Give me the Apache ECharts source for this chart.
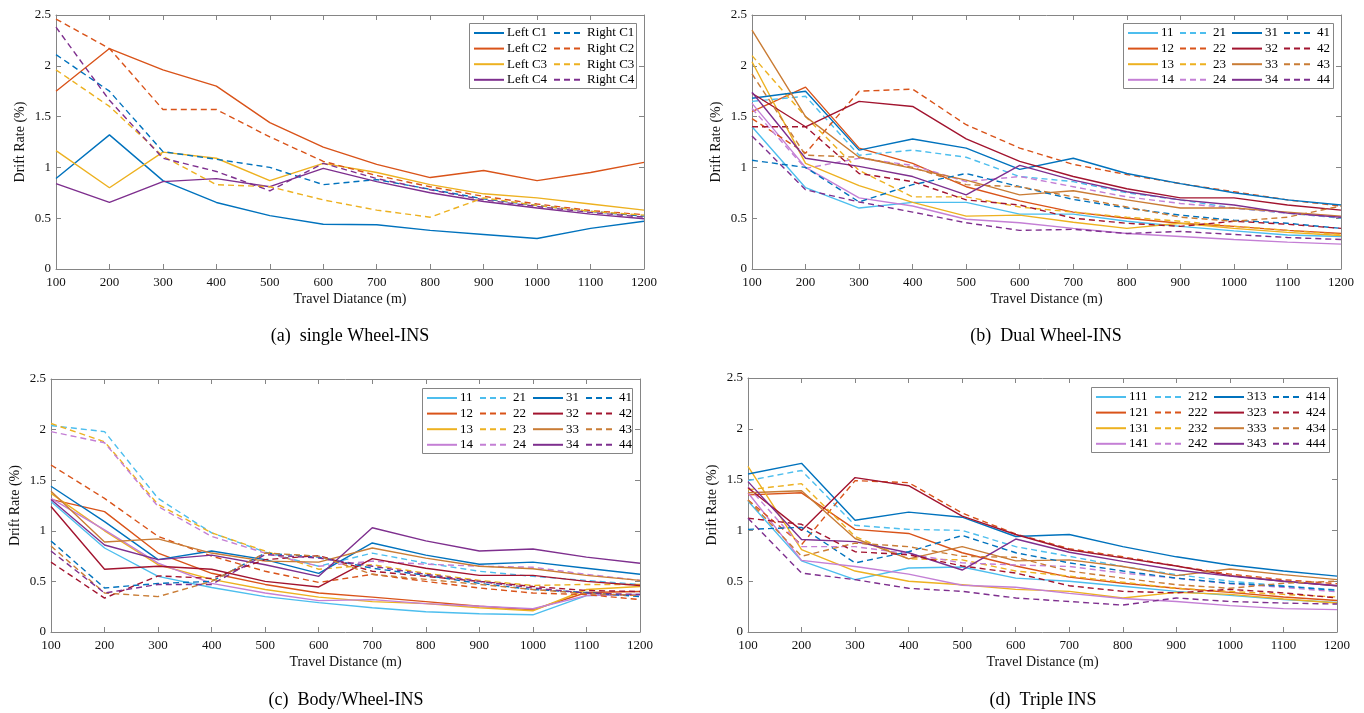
<!DOCTYPE html>
<html><head><meta charset="utf-8">
<script src="https://cdn.jsdelivr.net/npm/echarts@6/dist/echarts.min.js"></script>
<style>html,body{margin:0;padding:0;background:#fff}#c{width:1364px;height:713px}</style>
</head><body><div id="c"></div><script>
// ---------- data ----------
const xs = [100,200,300,400,500,600,700,800,900,1000,1100,1200];
const yTicks = [0,0.5,1,1.5,2,2.5];

// (a) single Wheel-INS
const aL1 = [0.89,1.32,0.87,0.655,0.525,0.44,0.435,0.38,0.34,0.30,0.40,0.47];
const aL2 = [1.75,2.17,1.96,1.80,1.44,1.20,1.03,0.90,0.97,0.87,0.95,1.05];
const aL3 = [1.165,0.80,1.15,1.09,0.87,1.04,0.95,0.83,0.74,0.70,0.64,0.58];
const aL4 = [0.84,0.655,0.86,0.89,0.81,0.99,0.86,0.75,0.665,0.60,0.54,0.495];
const aR1 = [2.11,1.75,1.155,1.08,1.0,0.83,0.88,0.785,0.69,0.625,0.567,0.52];
const aR2 = [2.46,2.17,1.57,1.57,1.30,1.06,0.92,0.81,0.715,0.64,0.575,0.535];
const aR3 = [1.96,1.60,1.11,0.83,0.81,0.68,0.58,0.51,0.70,0.625,0.567,0.53];
const aR4 = [2.38,1.66,1.09,0.96,0.77,1.04,0.89,0.78,0.68,0.615,0.557,0.51];

// (b) Dual Wheel-INS
const b11 = [1.40,0.80,0.60,0.656,0.656,0.54,0.54,0.47,0.42,0.375,0.335,0.32];
const b12 = [1.55,1.79,1.19,1.04,0.81,0.67,0.56,0.50,0.45,0.42,0.38,0.35];
const b13 = [2.04,1.04,0.82,0.656,0.52,0.53,0.46,0.40,0.45,0.40,0.36,0.33];
const b14 = [1.63,1.00,0.70,0.62,0.49,0.455,0.40,0.35,0.32,0.29,0.265,0.245];
const b21 = [1.65,1.70,1.12,1.17,1.10,0.91,0.86,0.75,0.68,0.60,0.55,0.50];
const b22 = [1.48,1.14,1.75,1.77,1.42,1.19,1.03,0.93,0.84,0.76,0.68,0.62];
const b23 = [2.10,1.50,0.97,0.71,0.71,0.61,0.56,0.51,0.47,0.42,0.38,0.34];
const b24 = [1.58,0.99,1.09,1.02,0.86,0.91,0.81,0.71,0.645,0.60,0.55,0.51];
const b31 = [1.68,1.75,1.17,1.28,1.19,0.98,1.09,0.94,0.84,0.75,0.68,0.63];
const b32 = [1.73,1.40,1.65,1.60,1.28,1.06,0.91,0.79,0.70,0.70,0.63,0.58];
const b33 = [2.35,1.50,1.10,0.99,0.875,0.73,0.77,0.68,0.60,0.60,0.56,0.52];
const b34 = [1.74,1.09,1.01,0.91,0.73,1.02,0.875,0.76,0.68,0.63,0.55,0.51];
const b41 = [1.07,1.00,0.66,0.83,0.94,0.81,0.685,0.60,0.53,0.48,0.45,0.40];
const b42 = [1.40,1.40,0.94,0.86,0.68,0.63,0.50,0.45,0.42,0.47,0.44,0.40];
const b43 = [1.92,1.12,1.10,1.00,0.83,0.81,0.71,0.61,0.51,0.47,0.51,0.62];
const b44 = [1.31,0.78,0.66,0.56,0.455,0.38,0.39,0.35,0.37,0.34,0.31,0.29];

// (c) Body/Wheel-INS
const c11 = [1.29,0.83,0.55,0.44,0.35,0.29,0.24,0.20,0.18,0.17,0.36,0.37];
const c12 = [1.31,1.19,0.78,0.58,0.47,0.385,0.345,0.30,0.255,0.22,0.39,0.40];
const c13 = [1.37,1.00,0.665,0.52,0.42,0.345,0.30,0.28,0.24,0.21,0.42,0.45];
const c14 = [1.32,1.01,0.68,0.48,0.385,0.31,0.32,0.28,0.255,0.23,0.36,0.37];
const c21 = [2.04,1.98,1.32,0.98,0.79,0.65,0.78,0.68,0.60,0.55,0.51,0.47];
const c22 = [1.65,1.32,0.945,0.75,0.60,0.49,0.57,0.50,0.435,0.385,0.37,0.32];
const c23 = [2.06,1.88,1.26,0.98,0.80,0.62,0.665,0.58,0.51,0.46,0.47,0.47];
const c24 = [1.98,1.87,1.24,0.945,0.78,0.65,0.70,0.67,0.65,0.64,0.57,0.51];
const c31 = [1.44,1.09,0.715,0.80,0.715,0.58,0.88,0.76,0.67,0.69,0.63,0.57];
const c32 = [1.24,0.62,0.65,0.62,0.50,0.445,0.725,0.63,0.56,0.56,0.50,0.46];
const c33 = [1.39,0.89,0.92,0.78,0.70,0.69,0.83,0.73,0.65,0.625,0.56,0.51];
const c34 = [1.31,0.86,0.715,0.76,0.665,0.55,1.03,0.90,0.80,0.82,0.74,0.68];
const c41 = [0.90,0.435,0.48,0.50,0.78,0.74,0.63,0.56,0.48,0.42,0.39,0.35];
const c42 = [0.69,0.335,0.555,0.53,0.715,0.755,0.60,0.55,0.50,0.45,0.41,0.40];
const c43 = [0.85,0.385,0.35,0.50,0.78,0.75,0.57,0.52,0.47,0.42,0.38,0.36];
const c44 = [0.80,0.385,0.47,0.47,0.765,0.73,0.65,0.57,0.50,0.435,0.385,0.37];

// (d) Triple INS
const d111 = [1.29,0.70,0.515,0.63,0.64,0.53,0.50,0.45,0.40,0.36,0.32,0.29];
const d121 = [1.35,1.37,1.01,0.97,0.78,0.65,0.54,0.48,0.43,0.39,0.345,0.31];
const d131 = [1.63,0.81,0.60,0.50,0.465,0.42,0.40,0.335,0.39,0.37,0.325,0.285];
const d141 = [1.37,0.705,0.645,0.57,0.46,0.44,0.38,0.33,0.30,0.26,0.23,0.22];
const d212 = [1.49,1.59,1.05,1.01,1.00,0.84,0.745,0.645,0.565,0.50,0.455,0.415];
const d222 = [1.30,0.86,1.49,1.47,1.17,0.965,0.82,0.74,0.65,0.57,0.515,0.475];
const d232 = [1.40,1.46,0.94,0.72,0.71,0.60,0.55,0.49,0.43,0.40,0.37,0.345];
const d242 = [1.43,0.84,0.84,0.77,0.68,0.66,0.645,0.58,0.53,0.475,0.44,0.395];
const d313 = [1.555,1.66,1.10,1.18,1.13,0.94,0.96,0.84,0.74,0.66,0.60,0.55];
const d323 = [1.42,1.00,1.52,1.44,1.14,0.96,0.81,0.73,0.65,0.555,0.50,0.455];
const d333 = [1.37,1.39,0.92,0.72,0.84,0.70,0.71,0.645,0.555,0.62,0.565,0.515];
const d343 = [1.48,0.91,0.89,0.78,0.61,0.915,0.785,0.695,0.61,0.55,0.50,0.455];
const d414 = [1.01,1.03,0.68,0.79,0.95,0.78,0.68,0.60,0.53,0.48,0.45,0.41];
const d424 = [1.12,1.06,0.79,0.76,0.65,0.58,0.455,0.40,0.385,0.42,0.385,0.335];
const d434 = [1.30,0.745,0.875,0.84,0.745,0.735,0.60,0.53,0.465,0.43,0.48,0.50];
const d444 = [1.12,0.58,0.515,0.43,0.40,0.335,0.30,0.265,0.335,0.30,0.285,0.275];

// ---------- styling ----------
const FONT = 'Liberation Serif';
const C = {blue:'#0072BD', orange:'#D95319', yellow:'#EDB120', purple:'#7E2F8E',
  lblue:'#4DBEEE', dred:'#A2142F', lpurple:'#C47FD5', bronze:'#C97C35'};
const AX = '#858585';

const grids = [
  {left:56, top:15, width:588, height:254},
  {left:752, top:15, width:589, height:254},
  {left:51, top:379, width:589, height:253},
  {left:748, top:378, width:589, height:254}
];
const xNames = ['Travel Diatance (m)','Travel Distance (m)','Travel Distance (m)','Travel Distance (m)'];

const xAxes = [], yAxes = [];
grids.forEach((g,i)=>{
  const common = {gridIndex:i, type:'value', splitLine:{show:false},
    axisLine:{show:true, onZero:false, lineStyle:{color:AX, width:1}},
    axisTick:{show:true, inside:true, length:5, lineStyle:{color:AX}}};
  xAxes.push(Object.assign({}, common, {position:'bottom', min:100, max:1200, interval:100,
    axisLabel:{color:'#111', fontFamily:FONT, fontSize:13, margin:7, formatter:v=>String(v)},
    name:xNames[i], nameLocation:'middle', nameGap:23,
    nameTextStyle:{color:'#111', fontFamily:FONT, fontSize:14}}));
  xAxes.push(Object.assign({}, common, {position:'top', min:100, max:1200, interval:100,
    axisLabel:{show:false}}));
  yAxes.push(Object.assign({}, common, {position:'left', min:yTicks[0], max:yTicks[yTicks.length-1], interval:0.5,
    axisLabel:{color:'#111', fontFamily:FONT, fontSize:13, margin:5, formatter:v=>String(v)},
    name:'Drift Rate (%)', nameLocation:'middle', nameGap:29,
    nameTextStyle:{color:'#111', fontFamily:FONT, fontSize:14}}));
  yAxes.push(Object.assign({}, common, {position:'right', min:yTicks[0], max:yTicks[yTicks.length-1], interval:0.5,
    axisLabel:{show:false}}));
});

function line(name, arr, color, dashed, g){
  return {name, type:'line', xAxisIndex:2*g, yAxisIndex:2*g,
    data: xs.map((x,i)=>[x, arr[i]]), symbol:'none', showSymbol:false,
    animation:false, emphasis:{disabled:true}, z:2,
    lineStyle:{color, width:1.4, type: dashed ? [6,4] : 'solid'}, itemStyle:{color}};
}

const series = [
  line('Left C1', aL1, C.blue, false, 0), line('Left C2', aL2, C.orange, false, 0),
  line('Left C3', aL3, C.yellow, false, 0), line('Left C4', aL4, C.purple, false, 0),
  line('Right C1', aR1, C.blue, true, 0), line('Right C2', aR2, C.orange, true, 0),
  line('Right C3', aR3, C.yellow, true, 0), line('Right C4', aR4, C.purple, true, 0)
];
const colMap = [C.lblue, C.orange, C.yellow, C.lpurple, C.lblue, C.orange, C.yellow, C.lpurple,
                C.blue, C.dred, C.bronze, C.purple, C.blue, C.dred, C.bronze, C.purple];
const dashMap = [false,false,false,false,true,true,true,true,false,false,false,false,true,true,true,true];
const bNames = ['11','12','13','14','21','22','23','24','31','32','33','34','41','42','43','44'];
const dNames = ['111','121','131','141','212','222','232','242','313','323','333','343','414','424','434','444'];
const bArr = [b11,b12,b13,b14,b21,b22,b23,b24,b31,b32,b33,b34,b41,b42,b43,b44];
const cArr = [c11,c12,c13,c14,c21,c22,c23,c24,c31,c32,c33,c34,c41,c42,c43,c44];
const dArr = [d111,d121,d131,d141,d212,d222,d232,d242,d313,d323,d333,d343,d414,d424,d434,d444];
bNames.forEach((n,i)=>series.push(line(n, bArr[i], colMap[i], dashMap[i], 1)));
bNames.forEach((n,i)=>series.push(line(n, cArr[i], colMap[i], dashMap[i], 2)));
dNames.forEach((n,i)=>series.push(line(n, dArr[i], colMap[i], dashMap[i], 3)));

function leg(names, left, top){
  return {orient:'vertical', left, top, padding:0, itemWidth:30, itemHeight:14, itemGap:1.6,
    selectedMode:false, z:10, itemStyle:{opacity:0, borderWidth:0},
    textStyle:{fontFamily:FONT, fontSize:13, color:'#000', lineHeight:14, padding:[0,0,0,-2]},
    data:names};
}
const legends = [
  leg(['Left C1','Left C2','Left C3','Left C4'], 473, 26),
  leg(['Right C1','Right C2','Right C3','Right C4'], 553, 26),
];
[[1127,26],[426,391],[1095,390]].forEach((p,k)=>{
  const names = k===2 ? dNames : bNames;
  const pitch = k===2 ? 59 : (k===0 ? 52 : 53);
  for(let c=0;c<4;c++) legends.push(leg(names.slice(c*4,c*4+4), p[0]+c*pitch, p[1]));
});

function box(x,y,w,h){ return {type:'rect', z:5, shape:{x,y,width:w,height:h}, style:{fill:'#fff', stroke:AX, lineWidth:1}}; }
function cap(text,x,y){ return {type:'text', z:5, x, y, style:{text, fill:'#000', font:'18px "Liberation Serif"',
  align:'center', verticalAlign:'middle', textAlign:'center', textVerticalAlign:'middle'}}; }

const option = {
  backgroundColor:'#fff', animation:false,
  grid: grids, xAxis: xAxes, yAxis: yAxes, series, legend: legends,
  graphic: [
    box(469.5,23.5,167,65), box(1123.5,23.5,210,65), box(422.5,388.5,210,65), box(1091.5,387.5,238,65),
    cap('(a)  single Wheel-INS', 350, 336), cap('(b)  Dual Wheel-INS', 1046, 336),
    cap('(c)  Body/Wheel-INS', 346, 700), cap('(d)  Triple INS', 1043, 700)
  ]
};
const chart = echarts.init(document.getElementById('c'), null, {renderer:'canvas'});
chart.setOption(option);
</script></body></html>
